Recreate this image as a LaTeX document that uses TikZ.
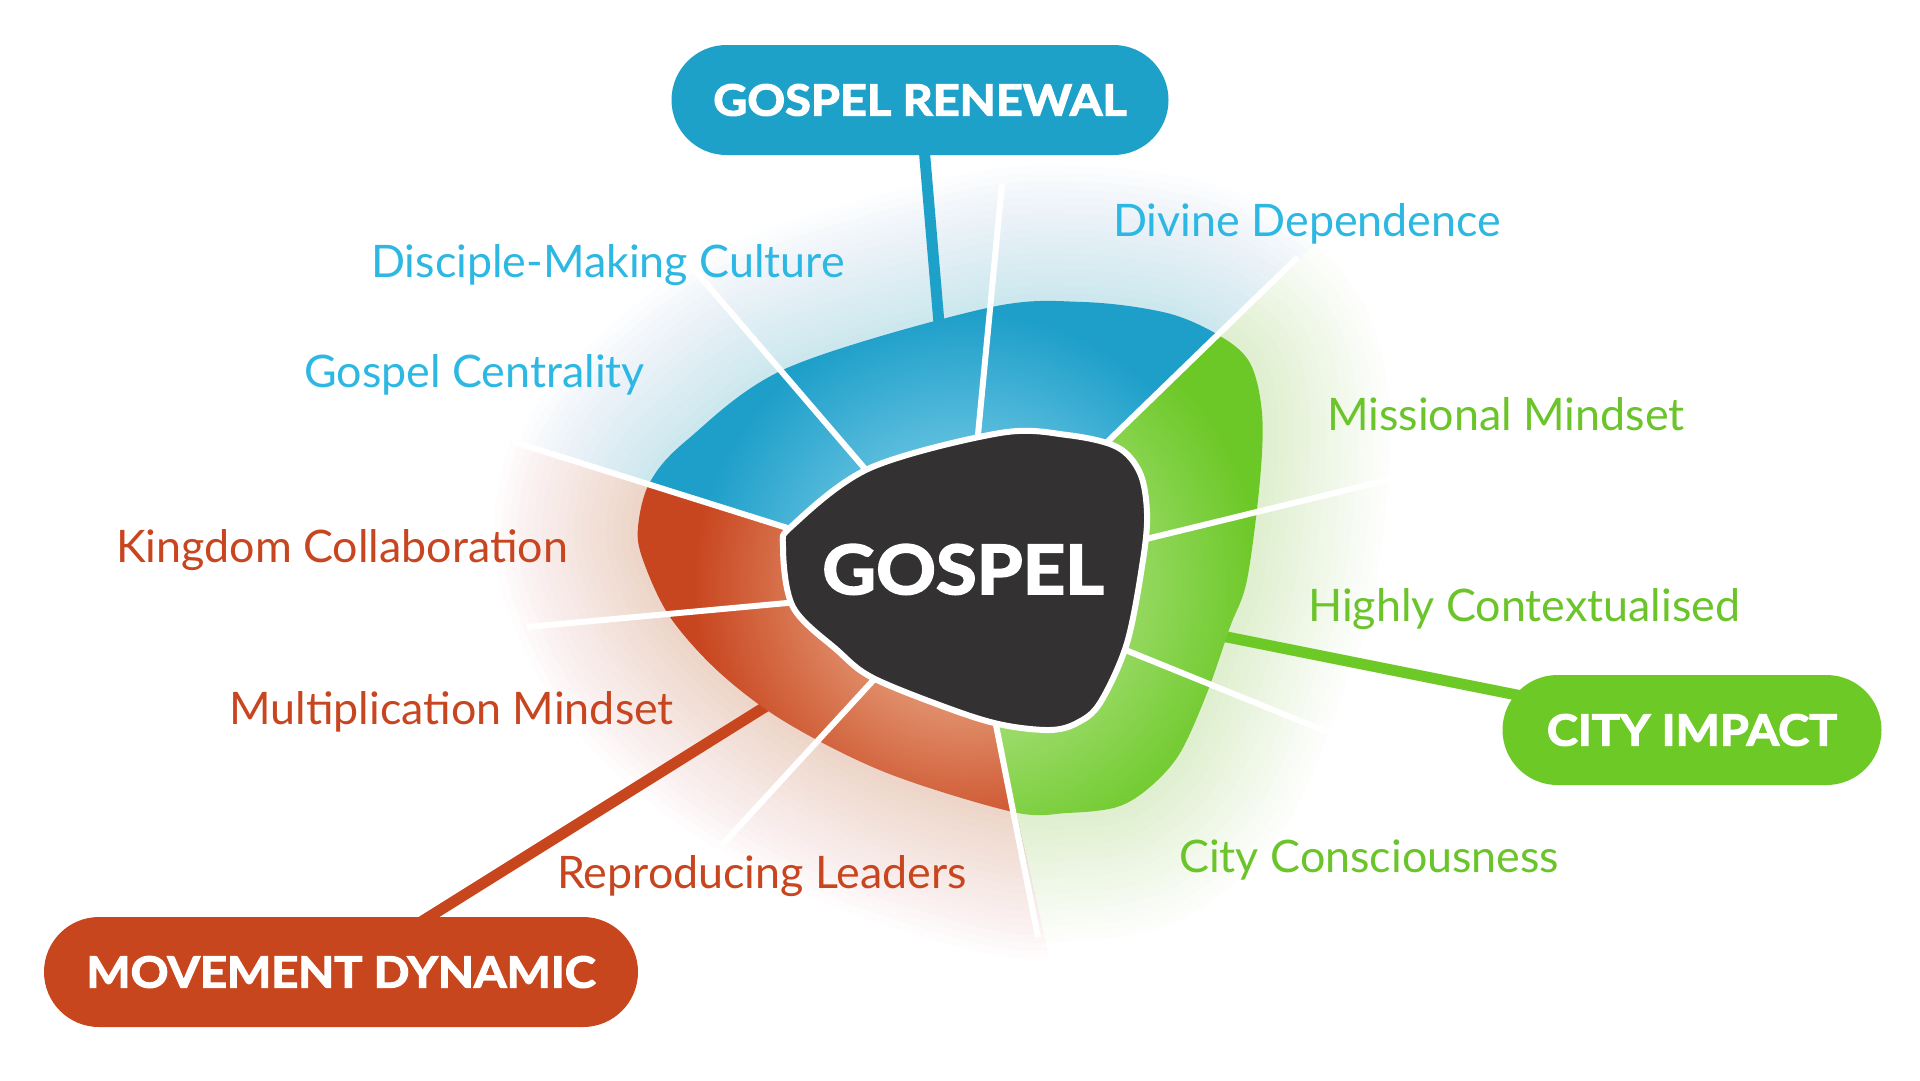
\documentclass[tikz,border=0pt]{standalone}
\usepackage{fontspec}
\setmainfont{Lato}
\newfontfamily\heavyfont{Lato}[FakeBold=2.8,FakeStretch=1.09]
\definecolor{ringBlue}{HTML}{1E9FCA}
\definecolor{ringBlueL}{HTML}{5FBFDE}
\definecolor{ringGreen}{HTML}{6CC827}
\definecolor{ringGreenL}{HTML}{9DDC6C}
\definecolor{ringRed}{HTML}{C8461F}
\definecolor{ringRedL}{HTML}{E08C68}
\definecolor{pillBlue}{HTML}{1EA1C9}
\definecolor{pillGreen}{HTML}{6DC926}
\definecolor{pillRed}{HTML}{C8461E}
\definecolor{labBlue}{HTML}{2DB7E3}
\definecolor{labGreen}{HTML}{6BC52A}
\definecolor{labRed}{HTML}{C8461F}
\definecolor{blobDark}{HTML}{333132}
\pgfdeclareradialshading{blueseg}{\pgfpoint{0bp}{0bp}}{color(0bp)=(ringBlueL); color(8.5bp)=(ringBlueL); color(17bp)=(ringBlue); color(50bp)=(ringBlue)}
\pgfdeclareradialshading{greenseg}{\pgfpoint{0bp}{0bp}}{color(0bp)=(ringGreenL); color(9bp)=(ringGreenL); color(18.5bp)=(ringGreen); color(50bp)=(ringGreen)}
\pgfdeclareradialshading{redseg}{\pgfpoint{0bp}{0bp}}{color(0bp)=(ringRedL); color(8bp)=(ringRedL); color(17bp)=(ringRed); color(50bp)=(ringRed)}
\pgfdeclarelayer{glowlayer}
\pgfdeclarelayer{connlayer}
\pgfsetlayers{glowlayer,connlayer,main}
\begin{document}
\begin{tikzpicture}[x=1pt,y=-1pt,
  ringpath/.style={insert path={plot[smooth cycle, tension=0.55] coordinates {(638,527) (650,482) (687,440) (787,368) (987,308) (1083,302) (1167,313) (1220,336) (1250,363) (1262,413) (1260,480) (1247,580) (1230,627) (1207,693) (1180,753) (1150,787) (1117,807) (1067,813) (1013,812) (887,773) (787,723) (720,673) (670,617) (643,560)}}},
  sectorB/.style={insert path={(790,528) -- (-100,251) -- (-100,-200) -- (1780,-200) -- (1107,442) -- cycle}},
  sectorG/.style={insert path={(1107,442) -- (1780,-200) -- (2100,-200) -- (2100,1300) -- (1127,1300) -- (997,728) -- cycle}},
  sectorR/.style={insert path={(997,728) -- (1127,1300) -- (-100,1300) -- (-100,251) -- (790,528) -- cycle}},
  conn/.style={line width=11pt},
  divider/.style={white, line width=6pt},
  pill/.style={rounded corners=55pt, minimum height=110pt, inner sep=0pt, text=white, font=\heavyfont\bfseries\fontsize{43}{45}\selectfont},
  lab/.style={anchor=base west, inner sep=0pt, font=\fontsize{44.8}{50}\selectfont}
]
\useasboundingbox (0,0) rectangle (1920,1080);

% glows
\begin{pgfonlayer}{glowlayer}
\fill[white] (0,0) rectangle (1920,1080);
\begin{scope}
  \clip[sectorB];
  \foreach \w in {16,32,...,272} \draw[ringBlue, opacity=0.012, line width=\w pt, ringpath];
\end{scope}
\begin{scope}
  \clip[sectorG];
  \foreach \w in {16,32,...,256} \draw[ringGreen, opacity=0.011, line width=\w pt, ringpath];
\end{scope}
\begin{scope}
  \clip[sectorR];
  \foreach \w in {16,32,...,288} \draw[ringRed, opacity=0.010, line width=\w pt, ringpath];
\end{scope}
\end{pgfonlayer}

% ring segments
\begin{scope}
  \clip[sectorB]; \clip[ringpath];
  \shade[shading=blueseg] (965,585) circle (400pt);
\end{scope}
\begin{scope}
  \clip[sectorG]; \clip[ringpath];
  \shade[shading=greenseg] (965,585) circle (400pt);
\end{scope}
\begin{scope}
  \clip[sectorR]; \clip[ringpath];
  \shade[shading=redseg] (965,585) circle (400pt);
\end{scope}

% divider lines
\coordinate (d1i) at (797,531);  \coordinate (d1o) at (514,442);
\coordinate (d2i) at (872,477);  \coordinate (d2o) at (680,253);
\coordinate (d3i) at (977,445);  \coordinate (d3o) at (1002,184);
\coordinate (d4i) at (1101,448); \coordinate (d4o) at (1298,257);
\coordinate (d5i) at (1142,540); \coordinate (d5o) at (1396,478);
\coordinate (d6i) at (1118,647); \coordinate (d6o) at (1335,735);
\coordinate (d7i) at (995,720);  \coordinate (d7o) at (1038,937);
\coordinate (d8i) at (879,674);  \coordinate (d8o) at (722,845);
\coordinate (d9i) at (798,602);  \coordinate (d9o) at (527,627);
\foreach \k in {1,...,9} \draw[divider] (d\k i) -- (d\k o);

% central blob
\draw[white, line width=6pt, fill=blobDark] plot[smooth cycle, tension=0.55] coordinates {(783,547) (793,607) (837,650) (873,678) (953,710) (1003,725) (1050,730) (1077,723) (1100,703) (1127,643) (1143,560) (1147,513) (1140,473) (1117,447) (1067,435) (1000,433) (870,468) (793,525)};
\node[anchor=base, inner sep=0pt, text=white, font=\heavyfont\bfseries\fontsize{68}{70}\selectfont] (gospel) at (963,594) {GOSPEL};

% labels
\node[lab, text=labBlue] (l1) at (371,277) {Disciple-Making Culture};
\node[lab, text=labBlue] (l2) at (1113,236) {Divine Dependence};
\node[lab, text=labBlue] (l3) at (304,387) {Gospel Centrality};
\node[lab, text=labGreen] (l4) at (1327,430) {Missional Mindset};
\node[lab, text=labRed] (l5) at (116,562) {Kingdom Collaboration};
\node[lab, text=labGreen] (l6) at (1308,621) {Highly Contextualised};
\node[lab, text=labRed] (l7) at (229,724) {Multiplication Mindset};
\node[lab, text=labRed] (l8) at (557,888) {Reproducing Leaders};
\node[lab, text=labGreen] (l9) at (1179,872) {City Consciousness};

% pills
\node[pill, fill=pillBlue, minimum width=497pt] (renewal) at (920,100) {GOSPEL RENEWAL};
\node[pill, fill=pillGreen, minimum width=379pt] (impact) at (1692,730) {CITY IMPACT};
\node[pill, fill=pillRed, minimum width=594pt] (dynamic) at (341,972) {MOVEMENT DYNAMIC};

% connectors (under ring and pills)
\coordinate (ringTop) at (940,335);
\coordinate (ringRight) at (1222,636);
\coordinate (ringLeft) at (768,705);
\begin{pgfonlayer}{connlayer}
\draw[conn, pillBlue] (ringTop) -- (renewal.center);
\draw[conn, pillGreen] (ringRight) -- (impact.center);
\draw[conn, pillRed] (ringLeft) -- (dynamic.center);
\end{pgfonlayer}
\end{tikzpicture}
\end{document}
